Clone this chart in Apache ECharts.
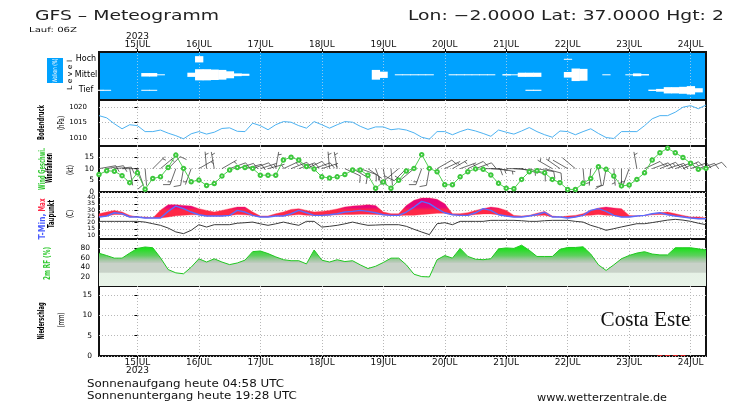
<!DOCTYPE html>
<html>
<head>
<meta charset="utf-8">
<title>GFS Meteogramm</title>
<script src="https://cdn.jsdelivr.net/npm/echarts@6.0.0/dist/echarts.min.js"></script>
<style>
  html, body { margin: 0; padding: 0; background: #fff; }
  #chart { width: 733px; height: 417px; }
</style>
</head>
<body>
<div id="chart"></div>
<script>
// Zeitachse: Stunden ab 15JUL 00Z, 3-stuendlich (14JUL 09Z .. 24JUL 06Z)
var hours = [-15, -12, -9, -6, -3, 0, 3, 6, 9, 12,
  15, 18, 21, 24, 27, 30, 33, 36, 39, 42,
  45, 48, 51, 54, 57, 60, 63, 66, 69, 72,
  75, 78, 81, 84, 87, 90, 93, 96, 99, 102,
  105, 108, 111, 114, 117, 120, 123, 126, 129, 132,
  135, 138, 141, 144, 147, 150, 153, 156, 159, 162,
  165, 168, 171, 174, 177, 180, 183, 186, 189, 192,
  195, 198, 201, 204, 207, 210, 213, 216, 219, 222];
var tickHours = [0, 24, 48, 72, 96, 120, 144, 168, 192, 216];
var tickLabels = ['15JUL', '16JUL', '17JUL', '18JUL', '19JUL', '20JUL', '21JUL', '22JUL', '23JUL', '24JUL'];
var yearLabel = '2023';

// Wolken (%) je Level
var cloudLow = [8, 5, 0, 0, 0, 0, 5, 5, 0, 0,
  0, 0, 0, 0, 0, 0, 0, 0, 0, 0,
  0, 0, 0, 0, 0, 0, 0, 0, 0, 0,
  0, 0, 0, 0, 0, 0, 0, 0, 0, 0,
  0, 0, 0, 0, 0, 0, 0, 0, 0, 0,
  0, 0, 0, 0, 0, 0, 8, 8, 0, 0,
  0, 0, 0, 0, 0, 0, 0, 0, 0, 0,
  0, 0, 10, 20, 45, 45, 50, 60, 30, 0];
var cloudMid = [0, 0, 0, 0, 0, 0, 25, 25, 5, 0,
  0, 0, 30, 80, 80, 75, 70, 50, 20, 15,
  0, 0, 0, 0, 0, 0, 0, 0, 0, 0,
  0, 0, 0, 0, 0, 0, 70, 45, 0, 3,
  3, 3, 3, 3, 0, 0, 3, 3, 3, 3,
  3, 3, 0, 10, 3, 30, 30, 30, 0, 0,
  0, 40, 90, 85, 0, 0, 5, 0, 0, 5,
  20, 10, 0, 0, 0, 0, 0, 0, 0, 0];
var cloudHigh = [0, 0, 0, 0, 0, 0, 0, 0, 0, 0,
  0, 0, 0, 45, 0, 0, 0, 0, 0, 0,
  0, 0, 0, 0, 0, 0, 0, 0, 0, 0,
  0, 0, 0, 0, 0, 0, 0, 0, 0, 0,
  0, 0, 0, 0, 0, 0, 0, 0, 0, 0,
  0, 0, 0, 0, 0, 0, 0, 0, 0, 0,
  0, 5, 0, 0, 0, 0, 0, 0, 0, 0,
  0, 0, 0, 0, 0, 0, 0, 0, 0, 0];
var cloudLevelNames = ['Tief', 'Mittel', 'Hoch'];
var cloudLevelValues = [1, 2, 3];

// Bodendruck (hPa)
var pressure = [1017.2, 1016.5, 1014.6, 1013.0, 1014.3, 1014.0, 1012.1, 1012.1, 1012.6, 1011.6,
  1010.8, 1009.8, 1011.4, 1012.1, 1011.3, 1011.9, 1013.1, 1013.3, 1012.2, 1012.1,
  1014.8, 1014.0, 1012.7, 1014.3, 1015.3, 1015.1, 1014.0, 1013.2, 1015.3, 1014.3,
  1013.2, 1014.3, 1015.3, 1015.1, 1013.8, 1012.8, 1013.6, 1013.6, 1012.7, 1013.0,
  1012.6, 1011.7, 1010.3, 1009.7, 1012.1, 1012.1, 1011.1, 1012.1, 1012.9, 1012.3,
  1011.5, 1010.6, 1012.6, 1011.9, 1011.3, 1012.3, 1013.4, 1012.1, 1011.1, 1010.3,
  1012.3, 1012.1, 1011.1, 1012.1, 1013.0, 1011.5, 1010.2, 1009.9, 1012.1, 1012.1,
  1012.1, 1014.0, 1016.2, 1017.2, 1017.2, 1018.3, 1019.9, 1020.4, 1019.4, 1020.6];
var pressureTicks = [1010, 1015, 1020];

// Wind (kt) und Richtung (Grad)
var windSpeed = [7.5, 9.1, 8.9, 7.0, 4.0, 8.2, 1.2, 5.8, 6.5, 10.5,
  15.8, 10.1, 4.4, 5.1, 2.8, 3.6, 6.8, 9.4, 10.5, 10.5,
  10.1, 7.2, 7.2, 7.2, 13.7, 14.9, 13.7, 10.9, 9.8, 6.5,
  6.0, 6.5, 7.5, 9.4, 9.4, 7.2, 1.6, 4.3, 1.6, 5.0,
  9.0, 10.1, 16.0, 10.1, 8.7, 3.1, 3.1, 6.5, 8.7, 9.9,
  9.7, 7.3, 3.7, 1.6, 1.4, 5.4, 8.7, 9.1, 8.2, 5.4,
  4.0, 1.1, 1.1, 3.7, 5.8, 10.8, 9.7, 6.8, 2.6, 3.0,
  5.4, 8.2, 13.7, 16.8, 18.7, 16.8, 14.8, 12.3, 9.7, 10.1];
var windDir = [80, 80, 85, 90, 170, 160, 175, 45, 50, 45,
  200, 190, 200, 60, 355, 350, 60, 70, 72, 75,
  70, 72, 75, 10, 65, 68, 70, 65, 70, 72,
  355, 350, 115, 120, 110, 125, 160, 170, 175, 230,
  225, 230, 200, 190, 60, 65, 60, 70, 65, 70,
  90, 95, 100, 90, 95, 105, 110, 100, 105, 300,
  305, 300, 310, 175, 185, 170, 190, 175, 180, 200,
  350, 65, 70, 68, 72, 70, 66, 70, 72, 68];
var windTicks = [0, 5, 10, 15];

// Temperatur (C): Max-Flaeche (Ober-/Unterkante), T-Min, Taupunkt
var tMax = [27.1, 28.5, 29.8, 28.5, 25.8, 24.5, 24.5, 23.7, 30.0, 34.4,
  34.4, 33.8, 33.3, 31.2, 29.8, 28.5, 29.8, 31.2, 32.5, 32.5,
  28.5, 25.3, 25.3, 27.1, 28.5, 30.6, 31.2, 29.8, 28.5, 29.0,
  29.8, 31.0, 32.5, 33.3, 33.8, 34.4, 33.8, 28.5, 27.1, 27.1,
  33.8, 37.9, 39.7, 39.7, 38.7, 35.2, 27.1, 27.1, 28.0, 29.8,
  31.2, 32.5, 31.7, 29.8, 25.8, 25.3, 25.8, 27.5, 29.0, 25.3,
  24.5, 25.3, 25.8, 27.1, 29.8, 31.7, 32.5, 31.7, 31.2, 25.8,
  25.3, 25.8, 27.1, 27.9, 28.5, 27.1, 25.8, 24.5, 24.5, 23.7];
var tMaxLow = [24.5, 25.3, 26.5, 26.5, 24.5, 24.5, 23.7, 23.7, 23.7, 24.5,
  25.5, 26.0, 26.3, 26.3, 25.3, 25.3, 25.3, 25.8, 26.5, 26.3,
  25.8, 24.5, 24.5, 25.3, 25.3, 26.0, 26.5, 26.0, 25.8, 25.8,
  26.0, 26.3, 26.5, 26.5, 26.8, 26.8, 26.5, 26.3, 25.8, 25.8,
  26.0, 26.0, 26.5, 27.0, 27.5, 27.5, 26.3, 25.8, 25.8, 26.5,
  27.0, 27.0, 26.3, 25.3, 24.5, 24.5, 25.3, 25.8, 26.0, 24.5,
  24.5, 23.7, 24.5, 25.8, 26.0, 26.5, 26.0, 25.8, 24.5, 24.5,
  25.3, 25.8, 26.3, 26.5, 26.3, 25.3, 24.5, 23.7, 23.1, 23.1];
var tMin = [24.5, 25.3, 27.9, 27.1, 24.5, 24.5, 23.7, 23.7, 23.7, 29.0,
  33.3, 31.2, 28.5, 26.3, 25.3, 25.3, 25.3, 25.8, 29.8, 28.5,
  25.8, 24.5, 24.5, 25.3, 25.3, 27.1, 29.8, 27.9, 25.8, 25.8,
  26.3, 27.1, 28.5, 29.0, 29.8, 29.0, 27.9, 26.3, 25.8, 25.8,
  28.5, 32.5, 37.1, 35.2, 31.2, 27.9, 26.3, 25.8, 25.8, 27.9,
  31.2, 29.8, 26.3, 25.3, 24.5, 24.5, 25.3, 26.5, 28.3, 24.5,
  24.5, 23.7, 24.5, 25.8, 29.8, 31.2, 29.0, 25.8, 24.5, 24.5,
  25.3, 25.8, 27.1, 27.9, 26.3, 25.3, 24.5, 23.7, 23.1, 23.1];
var dewPoint = [21.0, 21.0, 21.0, 21.0, 21.0, 21.0, 20.4, 19.1, 17.8, 15.6,
  12.5, 11.1, 13.8, 18.3, 16.4, 18.3, 18.3, 18.3, 19.5, 19.9,
  20.4, 19.0, 17.8, 19.0, 20.4, 19.0, 17.8, 21.0, 21.0, 16.4,
  17.0, 17.8, 19.0, 20.4, 19.0, 17.8, 18.0, 18.3, 18.3, 18.3,
  17.0, 14.6, 12.4, 10.3, 19.1, 19.9, 18.3, 21.0, 21.0, 21.0,
  21.0, 21.8, 21.8, 21.8, 21.8, 21.5, 21.0, 21.0, 21.5, 21.8,
  21.8, 21.8, 21.0, 20.4, 17.8, 16.0, 13.8, 15.1, 16.5, 17.8,
  19.1, 19.1, 20.0, 21.0, 22.0, 22.6, 22.0, 21.0, 19.5, 18.3];
var tempTicks = [10, 15, 20, 25, 30, 35, 40];

// 2m relative Feuchte (%)
var rh = [69.7, 64.8, 59.3, 59.3, 70, 80, 83, 81.4, 60, 35,
  28, 26, 40, 57.9, 51.0, 57.9, 51, 45.5, 49, 55,
  73.1, 74.5, 69, 62, 56, 53.8, 53.8, 47, 76.6, 55,
  51, 55.9, 52, 53.8, 45, 37.2, 42, 50, 59.3, 59.3,
  45, 25, 20, 19.3, 55.9, 64.8, 59.3, 80, 63, 57,
  56, 58, 79, 81, 80, 86.9, 76, 62.8, 62.8, 62.8,
  78, 82, 82, 83.4, 68, 45, 33.1, 45, 58, 65,
  70, 73, 68, 66.2, 66.2, 81.4, 81.4, 81.4, 79, 76.6];
var rhTicks = [20, 40, 60, 80];

// Niederschlag (mm)
var precip = [0, 0, 0, 0, 0, 0, 0, 0, 0, 0,
  0, 0, 0, 0, 0, 0, 0, 0, 0, 0,
  0, 0, 0, 0, 0, 0, 0, 0, 0, 0,
  0, 0, 0, 0, 0, 0, 0, 0, 0, 0,
  0, 0, 0, 0, 0, 0, 0, 0, 0, 0,
  0, 0, 0, 0, 0, 0, 0, 0, 0, 0,
  0, 0, 0, 0, 0, 0, 0, 0, 0, 0,
  0, 0, 0, 0.2, 0.2, 0.2, 0.2, 0, 0, 0];
var precipTicks = [0, 5, 10, 15];

// ---------------------------------------------------------------
var chart = echarts.init(document.getElementById('chart'));

var LEFT = 99, RIGHT = 27;
var panels = [
  { top: 52, height: 48 },   // Wolken
  { top: 100, height: 46 },  // Bodendruck
  { top: 146, height: 46 },  // Wind
  { top: 192, height: 47 },  // Temperatur
  { top: 239, height: 47 },  // Feuchte
  { top: 286, height: 70 }   // Niederschlag
];
var yRange = [
  [0.374, 3.47],
  [1007.5, 1022.2],
  [0, 19.7],
  [6.8, 44.6],
  [0, 100],
  [0, 17.2]
];
var barbBase = 10;     // Windfahnen sitzen auf der 10-kt-Linie
var staffLen = 17;
var cloudFull = 0.9;   // Hoehe eines 100%-Blocks in Level-Einheiten

function pairs(ys) {
  return hours.map(function (h, i) { return [h, ys[i]]; });
}

var dotted = { color: '#b8b8b8', type: [1, 2], width: 1 };

var grids = panels.map(function (p, i) {
  return {
    left: LEFT, right: RIGHT, top: p.top, height: p.height,
    show: true,
    backgroundColor: i === 0 ? '#00a2ff' : 'transparent',
    borderColor: '#111', borderWidth: 2
  };
});

var xAxes = panels.map(function (p, i) {
  var ax = {
    type: 'value', gridIndex: i, min: -15, max: 222,
    axisLine: { show: false },
    axisTick: { show: false, customValues: tickHours },
    axisLabel: { show: false, customValues: tickHours },
    splitLine: { show: true, lineStyle: i === 0 ? { color: '#8fc8ee', type: [1, 2] } : dotted }
  };
  if (i === 0) {
    ax.position = 'top';
    ax.axisTick = { show: true, length: 3, customValues: tickHours, lineStyle: { color: '#000' } };
    ax.axisLabel = {
      show: true, customValues: tickHours, fontSize: 9, lineHeight: 8, margin: 3, color: '#111',
      formatter: function (v) {
        var k = tickHours.indexOf(v);
        return k === 0 ? yearLabel + '\n' + tickLabels[k] : tickLabels[k];
      }
    };
  }
  if (i === 5) {
    ax.axisTick = { show: true, length: 3, customValues: tickHours, lineStyle: { color: '#000' } };
    ax.axisLabel = {
      show: true, customValues: tickHours, fontSize: 9, lineHeight: 8, margin: 3, color: '#111',
      formatter: function (v) {
        var k = tickHours.indexOf(v);
        return k === 0 ? tickLabels[k] + '\n' + yearLabel : tickLabels[k];
      }
    };
  }
  return ax;
});

function plain(v) { return String(v); }

function yAx(i, ticks, size, margin, extra) {
  var ax = {
    type: 'value', gridIndex: i, min: yRange[i][0], max: yRange[i][1],
    axisLine: { show: false },
    axisTick: { show: true, length: 3, customValues: ticks, lineStyle: { color: '#000' } },
    axisLabel: {
      customValues: ticks, fontSize: size, lineHeight: size, color: '#000', margin: margin,
      showMinLabel: true, showMaxLabel: true, hideOverlap: false, formatter: plain
    },
    splitLine: { show: true, lineStyle: dotted }
  };
  return Object.assign(ax, extra || {});
}

var yAxes = [
  yAx(0, cloudLevelValues, 8, 13, {
    axisTick: { show: false, customValues: cloudLevelValues },
    splitLine: { show: false },
    axisLabel: {
      customValues: cloudLevelValues, fontSize: 8, color: '#000', margin: 13, align: 'center',
      formatter: function (v) { return cloudLevelNames[cloudLevelValues.indexOf(v)]; }
    }
  }),
  yAx(1, pressureTicks, 7, 12),
  yAx(2, windTicks, 7.5, 5),
  yAx(3, tempTicks, 6, 4),
  yAx(4, rhTicks, 7.5, 9),
  yAx(5, precipTicks, 7.5, 7)
];

// Wolkenbloecke
var cloudData = [];
[cloudLow, cloudMid, cloudHigh].forEach(function (arr, lv) {
  arr.forEach(function (c, k) {
    if (c > 0) cloudData.push([hours[k], cloudLevelValues[lv], c]);
  });
});

function tempOffset(t) { return (yRange[3][1] - t) / (yRange[3][1] - yRange[3][0]); }
function rhOffset(v) { return (yRange[4][1] - v) / (yRange[4][1] - yRange[4][0]); }

var tGrid = panels[3], rGrid = panels[4];
var tempFill = new echarts.graphic.LinearGradient(0, tGrid.top, 0, tGrid.top + tGrid.height, [
  { offset: 0, color: '#e2007a' },
  { offset: tempOffset(32.5), color: '#e8047c' },
  { offset: tempOffset(30), color: '#ff2846' },
  { offset: 1, color: '#ff2846' }
], true);
var rhFill = new echarts.graphic.LinearGradient(0, rGrid.top, 0, rGrid.top + rGrid.height, [
  { offset: 0, color: '#00f000' },
  { offset: rhOffset(80), color: '#1ee01e' },
  { offset: rhOffset(65), color: '#5cd05c' },
  { offset: rhOffset(57), color: '#98c898' },
  { offset: rhOffset(50), color: '#bccbbc' },
  { offset: rhOffset(48), color: '#c8d2c8' },
  { offset: rhOffset(29), color: '#c8d2c8' },
  { offset: rhOffset(28), color: '#e6f2e6' },
  { offset: 1, color: '#e8f3e8' }
], true);

var series = [
  {
    type: 'custom', name: 'Wolken', xAxisIndex: 0, yAxisIndex: 0,
    data: cloudData, encode: { x: 0, y: 1 }, silent: true,
    renderItem: function (params, api) {
      var c = api.coord([api.value(0), api.value(1)]);
      var w = api.size([3, 0])[0];
      var hh = Math.max(1, api.size([0, api.value(2) / 100 * cloudFull])[1]);
      return {
        type: 'rect',
        shape: { x: c[0] - w / 2, y: c[1] - hh / 2, width: w + 0.6, height: hh },
        style: { fill: '#ffffff' }
      };
    }
  },
  {
    type: 'line', name: 'Bodendruck', xAxisIndex: 1, yAxisIndex: 1,
    data: pairs(pressure), showSymbol: false, silent: true,
    lineStyle: { color: '#4cb2f2', width: 1 }
  },
  {
    type: 'custom', name: 'Windfahnen', xAxisIndex: 2, yAxisIndex: 2, silent: true,
    data: hours.map(function (h, i) { return [h, windDir[i], windSpeed[i]]; }),
    encode: { x: 0 },
    renderItem: function (params, api) {
      var p = api.coord([api.value(0), barbBase]);
      var rad = api.value(1) * Math.PI / 180;
      var ux = Math.sin(rad), uy = -Math.cos(rad);
      var tip = [p[0] + ux * staffLen, p[1] + uy * staffLen];
      var st = { stroke: '#2a2a2a', lineWidth: 0.7 };
      var kids = [{ type: 'line', shape: { x1: p[0], y1: p[1], x2: tip[0], y2: tip[1] }, style: st }];
      var n = Math.round(api.value(2) / 5);
      var full = Math.floor(n / 2), half = n % 2;
      var th = 70 * Math.PI / 180;
      var bx = ux * Math.cos(th) - uy * Math.sin(th);
      var by = ux * Math.sin(th) + uy * Math.cos(th);
      var pos = 0;
      for (var j = 0; j < full; j++) {
        var sx = tip[0] - ux * pos, sy = tip[1] - uy * pos;
        kids.push({ type: 'line', shape: { x1: sx, y1: sy, x2: sx + bx * 7, y2: sy + by * 7 }, style: st });
        pos += 3;
      }
      if (half) {
        if (full === 0) pos = 3;
        var hx = tip[0] - ux * pos, hy = tip[1] - uy * pos;
        kids.push({ type: 'line', shape: { x1: hx, y1: hy, x2: hx + bx * 3.5, y2: hy + by * 3.5 }, style: st });
      }
      return { type: 'group', children: kids };
    }
  },
  {
    type: 'line', name: 'Wind Geschwi.', xAxisIndex: 2, yAxisIndex: 2, z: 4,
    data: pairs(windSpeed), symbol: 'emptyCircle', symbolSize: 3.5, silent: true,
    itemStyle: { color: '#3cc83c', borderColor: '#3cc83c', borderWidth: 0.8 },
    lineStyle: { color: '#3cc83c', width: 0.9 }
  },
  {
    type: 'custom', name: 'Max', xAxisIndex: 3, yAxisIndex: 3, silent: true,
    data: hours.map(function (h, i) { return [h, tMaxLow[i], tMax[i]]; }),
    encode: { x: 0, y: [1, 2] },
    renderItem: function (params, api) {
      if (params.dataIndexInside !== 0) return null;
      var top = [], bot = [];
      for (var j = 0; j < params.dataInsideLength; j++) {
        top.push(api.coord([api.value(0, j), api.value(2, j)]));
        bot.push(api.coord([api.value(0, j), api.value(1, j)]));
      }
      return {
        type: 'polygon',
        shape: { points: top.concat(bot.reverse()) },
        style: { fill: tempFill, stroke: '#ff2846', lineWidth: 0.4 }
      };
    }
  },
  {
    type: 'line', name: 'T-Min', xAxisIndex: 3, yAxisIndex: 3, z: 4,
    data: pairs(tMin), showSymbol: false, silent: true,
    lineStyle: { color: '#5a6cff', width: 1.4 }
  },
  {
    type: 'line', name: 'Taupunkt', xAxisIndex: 3, yAxisIndex: 3,
    data: pairs(dewPoint), showSymbol: false, silent: true,
    lineStyle: { color: '#3a3a3a', width: 1 }
  },
  {
    type: 'line', name: '2m RF', xAxisIndex: 4, yAxisIndex: 4,
    data: pairs(rh), showSymbol: false, silent: true,
    lineStyle: { color: '#22c822', width: 1 },
    areaStyle: { color: rhFill, opacity: 1 }
  },
  {
    type: 'bar', name: 'Niederschlag', xAxisIndex: 5, yAxisIndex: 5,
    data: pairs(precip), barWidth: 5, silent: true,
    itemStyle: { color: '#ff2020' }
  }
];

// Texte
var mctx = document.createElement('canvas').getContext('2d');
function txt(str, x, y, o) {
  var font = (o.weight || 'normal') + ' ' + o.size + 'px ' + (o.family || '"DejaVu Sans", sans-serif');
  mctx.font = font;
  var w = mctx.measureText(str).width;
  var sx = o.width ? o.width / w : (o.scale || 1);
  return {
    type: 'text', x: x, y: y, rotation: o.rot || 0, scaleX: sx, silent: true, z: 100,
    style: { text: str, font: font, fill: o.color || '#000', align: o.align || 'center', verticalAlign: 'middle' }
  };
}
var UP = Math.PI / 2;

var graphics = [
  txt('GFS \u2013 Meteogramm', 35, 16, { size: 14, scale: 1.34, align: 'left', color: '#222' }),
  txt('Lon: \u22122.0000 Lat: 37.0000 Hgt: 2', 408, 16, { size: 14, scale: 1.34, align: 'left', color: '#222' }),
  txt('Lauf: 06Z', 29, 30, { size: 7, width: 48, align: 'left', color: '#111' }),

  { type: 'rect', shape: { x: 47, y: 58, width: 16, height: 25 }, style: { fill: '#00a2ff' }, silent: true, z: 99 },
  txt('Wolken (%)', 55, 70.5, { size: 6.5, width: 24, rot: UP, color: '#fff' }),
  txt('L e v e l', 70, 75, { size: 7, width: 30, rot: UP }),

  txt('Bodendruck', 42, 122.5, { size: 8, weight: 'bold', width: 35, rot: UP }),
  txt('(hPa)', 62, 123, { size: 8, width: 14, rot: UP }),

  txt('Wind Geschwi.', 42.5, 169, { size: 8, weight: 'bold', width: 42, rot: UP, color: '#2fc82f' }),
  txt('Windfahnen', 50, 168, { size: 8, weight: 'bold', width: 30, rot: UP }),
  txt('(kt)', 71, 170, { size: 8, width: 10, rot: UP }),

  txt('Max', 42.5, 205, { size: 8, weight: 'bold', width: 13, rot: UP, color: '#ff2846' }),
  txt('T-Min,', 42.5, 226.5, { size: 8, weight: 'bold', width: 26, rot: UP, color: '#4a5cff' }),
  txt('Taupunkt', 51.5, 214, { size: 8, weight: 'bold', width: 28, rot: UP }),
  txt('(C)', 71, 214, { size: 8, width: 8, rot: UP }),

  txt('2m RF (%)', 47.5, 263.5, { size: 8, weight: 'bold', width: 33, rot: UP, color: '#2fc82f' }),

  txt('Niederschlag', 42, 321, { size: 8, weight: 'bold', width: 37, rot: UP }),
  txt('(mm)', 62, 320, { size: 8, width: 15, rot: UP }),

  txt('Costa Este', 645.5, 320, { size: 21, family: '"Liberation Serif", serif', width: 90, color: '#111' }),

  txt('Sonnenaufgang heute 04:58 UTC', 87, 384, { size: 11, scale: 1.08, align: 'left', color: '#111' }),
  txt('Sonnenuntergang heute 19:28 UTC', 87, 396, { size: 11, scale: 1.08, align: 'left', color: '#111' }),
  txt('www.wetterzentrale.de', 602, 398, { size: 10, width: 130, color: '#111' })
];

chart.setOption({
  animation: false,
  backgroundColor: '#fff',
  textStyle: { fontFamily: '"DejaVu Sans", sans-serif' },
  grid: grids,
  xAxis: xAxes,
  yAxis: yAxes,
  series: series,
  graphic: graphics
});
</script>
</body>
</html>
